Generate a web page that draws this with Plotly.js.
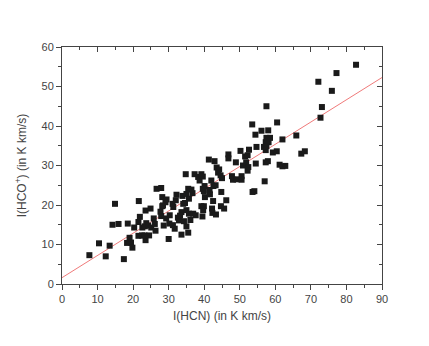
<!DOCTYPE html>
<html>
<head>
<meta charset="utf-8">
<script src="https://cdn.plot.ly/plotly-3.0.1.min.js"></script>
<style>
  html, body { margin: 0; padding: 0; background: #fff; }
  #chart { width: 429px; height: 346px; }
</style>
</head>
<body>
<div id="chart"></div>
<script>
// I(HCN) values (K km/s)
const hcn = [
    7.7, 10.4, 12.3, 13.4, 14.2, 14.9, 15.9, 17.4, 18.5, 18.3,
    19.0, 19.4, 19.8, 20.3, 21.5, 21.6, 21.9, 21.5, 22.5, 22.6,
    23.5, 23.3, 23.7, 24.2, 23.5, 23.2, 24.5, 24.9, 25.1, 25.8,
    26.1, 26.3, 26.6, 27.9, 28.2, 27.7, 28.2, 28.4, 29.1, 29.4,
    28.6, 29.3, 30.0, 30.3, 30.2, 31.1, 31.2, 31.7, 32.2, 32.0,
    32.6, 32.9, 33.6, 33.9, 33.6, 34.1, 34.6, 34.8, 35.0, 35.5,
    35.5, 35.7, 35.7, 36.4, 36.9, 37.3, 37.6, 38.3, 39.2, 39.2,
    39.9, 40.2, 39.9, 39.5, 36.7, 35.0, 31.3, 27.9, 34.3, 35.0,
    33.2, 36.1, 39.7, 41.6, 41.5, 42.2, 42.3, 43.3, 44.7, 45.6,
    46.2, 42.5, 43.2, 42.0, 44.8, 43.5, 44.2, 43.9, 44.6, 45.0,
    42.6, 40.1, 38.7, 39.6, 39.6, 41.3, 42.9, 46.8, 46.8, 48.9,
    47.8, 48.1, 49.1, 50.5, 50.5, 50.2, 52.6, 51.5, 52.2, 50.9,
    51.8, 52.4, 52.2, 53.6, 54.1, 57.0, 54.5, 57.3, 57.9, 61.2,
    62.0, 62.8, 59.3, 60.4, 67.3, 68.3, 54.7, 56.8, 57.3, 57.3,
    58.1, 57.5, 58.5, 57.5, 54.4, 56.1, 58.0, 53.5, 60.5, 57.5,
    62.0, 65.9, 72.1, 77.2, 82.7, 75.9, 73.1, 72.7
];
// I(HCO+) values (K km/s)
const hcop = [
    7.3, 10.3, 7.0, 9.7, 15.0, 20.3, 15.2, 6.3, 15.3, 10.4,
    11.7, 10.5, 9.2, 14.3, 15.7, 21.0, 17.0, 12.2, 12.3, 14.3,
    18.6, 14.6, 15.4, 14.8, 11.1, 12.3, 12.3, 19.1, 14.3, 16.6,
    15.2, 13.5, 24.1, 24.3, 22.0, 18.3, 19.7, 19.9, 20.7, 21.4,
    14.8, 16.6, 11.4, 17.4, 15.3, 20.3, 14.9, 14.0, 22.6, 21.2,
    16.8, 16.1, 12.5, 22.3, 18.2, 20.3, 20.5, 27.8, 14.6, 13.0,
    24.1, 21.6, 17.8, 23.9, 17.8, 27.8, 17.4, 27.1, 27.8, 19.7,
    19.7, 22.0, 23.5, 17.1, 23.0, 22.8, 19.5, 17.2, 15.9, 18.7,
    17.3, 16.2, 18.7, 22.7, 23.8, 19.1, 18.0, 17.6, 19.7, 19.1,
    21.2, 21.0, 25.0, 26.2, 23.3, 29.5, 29.0, 28.2, 27.5, 26.8,
    24.8, 24.8, 26.2, 27.2, 24.1, 31.5, 31.1, 32.8, 31.8, 30.8,
    27.3, 26.4, 26.5, 27.3, 26.4, 33.7, 34.0, 32.3, 32.6, 30.0,
    30.8, 29.6, 28.7, 23.3, 23.5, 26.0, 30.5, 30.8, 31.1, 30.2,
    29.8, 29.9, 33.3, 33.6, 33.0, 33.6, 34.7, 34.7, 33.9, 35.9,
    35.9, 37.0, 37.0, 34.9, 37.8, 38.8, 38.9, 40.4, 40.9, 45.0,
    36.6, 37.6, 51.2, 53.4, 55.5, 48.9, 44.8, 42.1
];
// linear fit
const fitIntercept = 1.6;
const fitSlope = 0.563;
const fitX = [0, 90];
const fitY = fitX.map(v => fitIntercept + fitSlope * v);

const points = {
    x: hcn,
    y: hcop,
    type: 'scatter',
    mode: 'markers',
    marker: { symbol: 'square', size: 6, color: '#1a1a1a' },
    showlegend: false,
    hoverinfo: 'x+y'
};

const fit = {
    x: fitX,
    y: fitY,
    type: 'scatter',
    mode: 'lines',
    line: { color: '#f07a7a', width: 1 },
    showlegend: false,
    hoverinfo: 'skip'
};

// empty trace so the mirrored top/right axes get drawn
const mirror = { x: [], y: [], xaxis: 'x2', yaxis: 'y2', type: 'scatter', showlegend: false };

const tickFont = { family: 'Liberation Sans, Arial, sans-serif', size: 11, color: '#444' };
const titleFont = { family: 'Liberation Sans, Arial, sans-serif', size: 12, color: '#444' };
const axisLine = { showline: true, linecolor: '#444', linewidth: 1, showgrid: false, zeroline: false };

const layout = {
    width: 429,
    height: 346,
    margin: { l: 62, r: 47, t: 47, b: 62 },
    paper_bgcolor: '#fff',
    plot_bgcolor: '#fff',
    font: tickFont,
    xaxis: Object.assign({
        range: [0, 90], dtick: 10, tick0: 0,
        ticks: 'outside', ticklen: 5, tickcolor: '#444',
        minor: { dtick: 5, ticks: 'outside', ticklen: 3, tickcolor: '#444' },
        tickfont: tickFont,
        title: { text: 'I(HCN) (in K km/s)', font: titleFont, standoff: 7 }
    }, axisLine),
    yaxis: Object.assign({
        range: [0, 60], dtick: 10, tick0: 0,
        ticks: 'outside', ticklen: 5, tickcolor: '#444',
        minor: { dtick: 5, ticks: 'outside', ticklen: 3, tickcolor: '#444' },
        tickfont: tickFont,
        title: { text: 'I(HCO<sup>+</sup>) (in K km/s)', font: titleFont, standoff: 12 }
    }, axisLine),
    xaxis2: Object.assign({
        overlaying: 'x', side: 'top', range: [0, 90], dtick: 10,
        ticks: 'inside', ticklen: 5, tickcolor: '#444', showticklabels: false,
        minor: { dtick: 5, ticks: 'inside', ticklen: 3, tickcolor: '#444' }
    }, axisLine),
    yaxis2: Object.assign({
        overlaying: 'y', side: 'right', range: [0, 60], dtick: 10,
        ticks: 'inside', ticklen: 5, tickcolor: '#444', showticklabels: false,
        minor: { dtick: 5, ticks: 'inside', ticklen: 3, tickcolor: '#444' }
    }, axisLine)
};

Plotly.newPlot('chart', [fit, points, mirror], layout, { displayModeBar: false, staticPlot: true });
</script>
</body>
</html>
